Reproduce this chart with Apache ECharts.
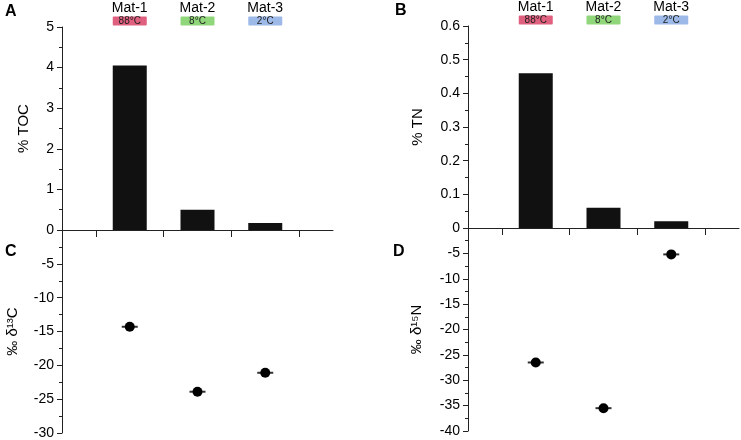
<!DOCTYPE html>
<html>
<head>
<meta charset="utf-8">
<script src="https://cdn.jsdelivr.net/npm/echarts@6/dist/echarts.min.js"></script>
<style>html,body{margin:0;padding:0;background:#fff}#c{width:741px;height:440px}</style>
</head>
<body>
<div id="c"></div>
<script>
const categories = ['Mat-1', 'Mat-2', 'Mat-3'];
const temperatures = ['88°C', '8°C', '2°C'];
const badgeColors = ['#e0607f', '#90d77c', '#9cb9e8'];
const tocPct = [4.05, 0.5, 0.17];
const tnPct = [0.46, 0.06, 0.02];
const d13C = [-14.3, -23.9, -21.1];
const d15N = [-26.5, -35.5, -5.2];

const FONT = 'Liberation Sans, Arial, sans-serif';
const AX = '#222';
const pts = arr => arr.map((v, i) => [i + 1, v]);

const rich = { n: { fontSize: 14, lineHeight: 16, color: '#000', fontFamily: FONT } };
badgeColors.forEach((c, i) => {
  rich['b' + i] = { backgroundColor: c, width: 34, height: 9, lineHeight: 10, fontSize: 10, align: 'center', color: '#222', fontFamily: FONT, borderRadius: 1 };
});

function bottomX(grid) {
  return { gridIndex: grid, type: 'value', min: 0, max: 4, position: 'bottom',
    axisLine: { show: true, lineStyle: { color: AX, width: 1 } },
    axisTick: { show: true, customValues: [0.5, 1.5, 2.5, 3.5], length: 7, inside: false, lineStyle: { color: AX } },
    axisLabel: { show: false }, splitLine: { show: false } };
}
function topX(grid) {
  return { gridIndex: grid, type: 'value', min: 0, max: 4, position: 'top',
    axisLine: { show: false }, axisTick: { show: false }, splitLine: { show: false },
    axisLabel: { show: true, customValues: [1, 2, 3], margin: 1, rich: rich,
      formatter: v => { const i = Math.round(v) - 1; return '{n|' + categories[i] + '}\n{b' + i + '|' + temperatures[i] + '}'; } } };
}
function hiddenX(grid) {
  return { gridIndex: grid, type: 'value', min: 0, max: 4, show: false, splitLine: { show: false } };
}
function yAx(grid, min, max, interval, name, gap, hideMax, fmt) {
  return { gridIndex: grid, type: 'value', min: min, max: max, interval: interval,
    name: name, nameLocation: 'middle', nameRotate: 90, nameGap: gap,
    nameTextStyle: { fontSize: 15, color: '#000', fontFamily: FONT },
    axisLine: { show: true, lineStyle: { color: AX, width: 1 } },
    axisTick: { show: true, length: 5, lineStyle: { color: AX } },
    minorTick: { show: true, splitNumber: 2, length: 3, lineStyle: { color: AX } },
    axisLabel: { fontSize: 14, color: '#000', fontFamily: FONT, margin: 8, showMaxLabel: !hideMax, formatter: fmt },
    splitLine: { show: false } };
}
const errStyle = { color: '#333', opacity: 1 };
const dotStyle = { color: '#000', opacity: 1 };

const option = {
  animation: false,
  backgroundColor: '#fff',
  textStyle: { fontFamily: FONT },
  title: [
    { text: 'A', left: 5, top: 4 },
    { text: 'B', left: 395, top: 3 },
    { text: 'C', left: 5, top: 244 },
    { text: 'D', left: 393, top: 244 }
  ].map(t => Object.assign(t, { textStyle: { fontSize: 16, fontWeight: 'bold', color: '#000', fontFamily: FONT }, padding: 0 })),
  grid: [
    { left: 62, top: 27, width: 271, height: 203 },
    { left: 62, top: 230, width: 271, height: 203 },
    { left: 468, top: 25, width: 271, height: 203 },
    { left: 468, top: 228, width: 271, height: 203 }
  ],
  xAxis: [bottomX(0), topX(0), hiddenX(1), bottomX(2), topX(2), hiddenX(3)],
  yAxis: [
    yAx(0, 0, 5, 1, '% TOC', 31, false),
    yAx(1, -30, 0, 5, '‰ δ¹³C', 42, true),
    yAx(2, 0, 0.6, 0.1, '% TN', 43, false, v => v === 0 ? '0' : v.toFixed(1)),
    yAx(3, -40, 0, 5, '‰ δ¹⁵N', 44, true)
  ],
  series: [
    { type: 'bar', xAxisIndex: 0, yAxisIndex: 0, data: pts(tocPct), barWidth: 34, itemStyle: { color: '#111' } },
    { type: 'bar', xAxisIndex: 3, yAxisIndex: 2, data: pts(tnPct), barWidth: 34, itemStyle: { color: '#111' } },
    { type: 'scatter', xAxisIndex: 2, yAxisIndex: 1, data: pts(d13C), symbol: 'rect', symbolSize: [16, 2], itemStyle: errStyle },
    { type: 'scatter', xAxisIndex: 2, yAxisIndex: 1, data: pts(d13C), symbol: 'circle', symbolSize: 10, itemStyle: dotStyle },
    { type: 'scatter', xAxisIndex: 5, yAxisIndex: 3, data: pts(d15N), symbol: 'rect', symbolSize: [16, 2], itemStyle: errStyle },
    { type: 'scatter', xAxisIndex: 5, yAxisIndex: 3, data: pts(d15N), symbol: 'circle', symbolSize: 10, itemStyle: dotStyle }
  ]
};
const chart = echarts.init(document.getElementById('c'), null, { renderer: 'canvas' });
chart.setOption(option);
</script>
</body>
</html>
